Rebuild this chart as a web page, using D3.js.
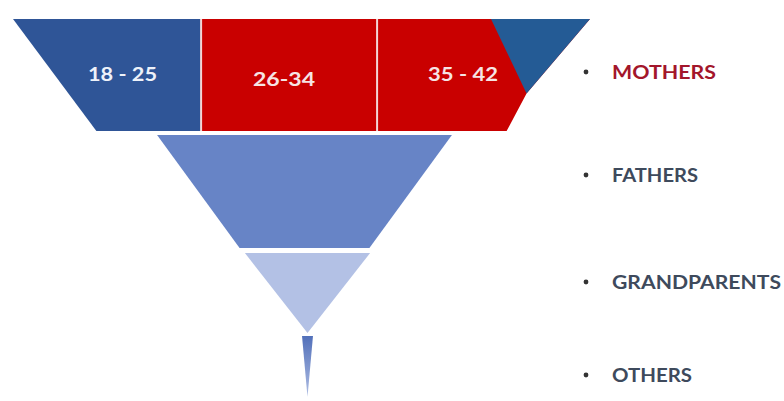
<!DOCTYPE html>
<html><head><meta charset="utf-8">
<script src="https://cdn.jsdelivr.net/npm/d3@7"></script>
<style>html,body{margin:0;padding:0;background:#fff;}svg{display:block;}</style>
</head><body>
<svg id="chart" width="784" height="401"></svg>
<script>
// ---- data ----
const categories = ["MOTHERS", "FATHERS", "GRANDPARENTS", "OTHERS"];
const topValues = [100, 51.1, 21.7, 1.9];      // relative width at top of each band
const bottomValues = [71.1, 22.5, 0, 0];        // relative width at bottom of each band
const ageGroups = ["18 - 25", "26-34", "35 - 42"];
const ageShares = [32.6, 30.5, 36.9];           // share of the MOTHERS band

// ---- layout / style ----
const svg = d3.select("#chart");
const bandColors = ["#2F5597", "#6784C6", "#B3C1E5", "#5A77BE"];
const red = "#C90000";
const yEdges = [[19, 131], [135, 248], [253, 333], [336, 397]];
const legendY = [79, 182, 289, 382];
const legendLen = [104, 86, 169, 80];
const ageLabelLen = [69, 62, 70];
const ageLabelY = [81, 86, 81];
const ageLabelX = [122.5, 284, 463];

const wScale = d3.scaleLinear().domain([0, 100]).range([0, 577]);
const centerScale = d3.scaleLinear().domain([0, 2]).range([301.5, 307.5]).clamp(true);

const defs = svg.append("defs");
const grad = defs.append("linearGradient").attr("id", "spike").attr("x1", 0).attr("y1", 0).attr("x2", 0).attr("y2", 1);
grad.append("stop").attr("offset", "0%").attr("stop-color", "#5270BA");
grad.append("stop").attr("offset", "100%").attr("stop-color", "#AEBDE3");

function bandPoly(i) {
  const c = centerScale(i);
  const tw = wScale(topValues[i]) / 2, bw = wScale(bottomValues[i]) / 2;
  const [y0, y1] = yEdges[i];
  return { c, tw, bw, y0, y1,
    pts: [[c - tw, y0], [c + tw, y0], [c + bw, y1], [c - bw, y1]] };
}
const line = d3.line();

// lower bands
categories.forEach((cat, i) => {
  if (i === 0) return;
  const b = bandPoly(i);
  svg.append("path").attr("d", line(b.pts) + "Z")
    .attr("fill", i === 3 ? "url(#spike)" : bandColors[i]);
});

// top band split into age groups
const b0 = bandPoly(0);
const leftAt = y => b0.c - (b0.tw + (b0.bw - b0.tw) * (y - b0.y0) / (b0.y1 - b0.y0));
const rightAt = y => 2 * b0.c - leftAt(y);
const cum = d3.cumsum(ageShares);
const total = d3.sum(ageShares);
const segX = d3.scaleLinear().domain([0, total]).range([b0.c - b0.tw, b0.c + b0.tw]);
const segColors = [bandColors[0], red, red];
const tr = rightAt(b0.y0);
const apexY = b0.y0 + (b0.y1 - b0.y0) * 0.665;
const apex = [rightAt(apexY) - 8, apexY];
ageGroups.forEach((g, j) => {
  const a = j === 0 ? 0 : cum[j - 1], e = cum[j];
  const xl = segX(a), xr = segX(e);
  let pts;
  if (j === 0) pts = [[leftAt(b0.y0), b0.y0], [xr, b0.y0], [xr, b0.y1], [leftAt(b0.y1), b0.y1]];
  else if (j === ageGroups.length - 1) pts = [[xl, b0.y0], [tr, b0.y0], apex, [rightAt(b0.y1), b0.y1], [xl, b0.y1]];
  else pts = [[xl, b0.y0], [xr, b0.y0], [xr, b0.y1], [xl, b0.y1]];
  svg.append("path").attr("d", line(pts) + "Z").attr("fill", segColors[j]);
});
// thin light dividers
cum.slice(0, -1).forEach(v => {
  svg.append("line").attr("x1", segX(v)).attr("x2", segX(v))
    .attr("y1", b0.y0).attr("y2", b0.y1)
    .attr("stroke", "#F3D6D6").attr("stroke-width", 2);
});
// blue wedge over the right end of the top band
svg.append("path")
  .attr("d", line([[tr - 99, b0.y0], [tr, b0.y0], apex]) + "Z")
  .attr("fill", "#245B95");

// age labels
ageGroups.forEach((g, j) => {
  svg.append("text")
    .attr("x", ageLabelX[j]).attr("y", ageLabelY[j])
    .attr("text-anchor", "middle")
    .attr("font-family", "Lato, 'Open Sans', sans-serif")
    .attr("font-weight", 700).attr("font-size", 19.5)
    .attr("fill", j === 0 ? "#EEF2FA" : "#F6E4E4")
    .attr("textLength", ageLabelLen[j]).attr("lengthAdjust", "spacingAndGlyphs")
    .text(g);
});

// legend
categories.forEach((cat, i) => {
  svg.append("circle").attr("cx", 586).attr("cy", legendY[i] - 7).attr("r", 2.4)
    .attr("fill", "#333");
  svg.append("text")
    .attr("x", 612).attr("y", legendY[i])
    .attr("font-family", "Lato, 'Open Sans', sans-serif")
    .attr("font-weight", 700).attr("font-size", 19.5)
    .attr("fill", i === 0 ? "#A3162B" : "#3E4A5C")
    .attr("textLength", legendLen[i]).attr("lengthAdjust", "spacingAndGlyphs")
    .text(cat);
});
</script>
</body></html>
